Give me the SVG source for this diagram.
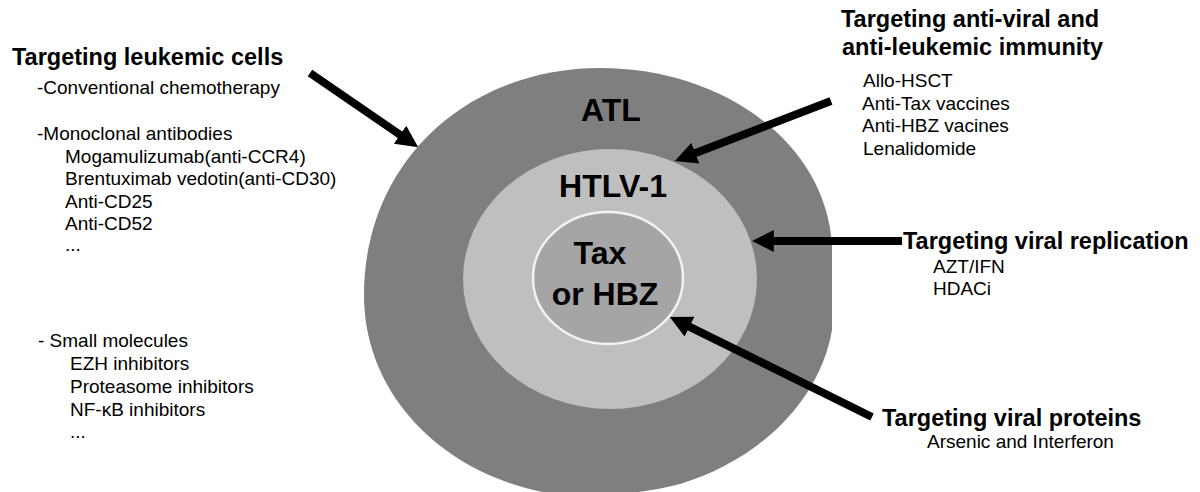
<svg xmlns="http://www.w3.org/2000/svg" width="1200" height="492" viewBox="0 0 1200 492">
<style>
.h{font-family:"Liberation Sans",Arial,sans-serif;font-weight:bold;font-size:23.5px;fill:#000}
.t{font-family:"Liberation Sans",Arial,sans-serif;font-size:19px;fill:#000}
.c{font-family:"Liberation Sans",Arial,sans-serif;font-weight:bold;font-size:32px;fill:#000;text-anchor:middle}
.arr{stroke:#000;stroke-width:8;fill:none;marker-end:url(#ah)}
</style>
<defs>
<marker id="ah" viewBox="0 0 10 10" refX="4" refY="5" markerWidth="22" markerHeight="22" markerUnits="userSpaceOnUse" orient="auto">
<path d="M0,0 L10,5 L0,10 z" fill="#000"/>
</marker>
</defs>
<rect width="1200" height="492" fill="#fff"/>
<g id="atl">
<path d="M600,68 C470,68 364,160 364,295 C364,400 450,480 560,495 C610,497 650,492 680,484 C760,460 820,400 832,330 L832,245 C825,140 720,68 600,68 Z" fill="#7f7f7f"/>
<text class="c" x="611" y="121">ATL</text>
</g>
<g id="htlv">
<ellipse cx="610" cy="279" rx="147" ry="130" fill="#bfbfbf"/>
<text class="c" x="613" y="197" font-size="31">HTLV-1</text>
</g>
<g id="tax">
<ellipse cx="608" cy="278" rx="75" ry="66" fill="#a5a5a5" stroke="#f2f2f2" stroke-width="2.5"/>
<text class="c" x="600" y="264" font-size="33">Tax</text>
<text class="c" x="605" y="305" font-size="33">or HBZ</text>
</g>
<g id="leukemic">
<text class="h" x="12" y="65">Targeting leukemic cells</text>
<text class="t" x="37" y="94">-Conventional chemotherapy</text>
<text class="t" x="37" y="140">-Monoclonal antibodies</text>
<text class="t" x="65" y="162.5">Mogamulizumab(anti-CCR4)</text>
<text class="t" x="65" y="185">Brentuximab vedotin(anti-CD30)</text>
<text class="t" x="65" y="207.5">Anti-CD25</text>
<text class="t" x="65" y="230">Anti-CD52</text>
<text class="t" x="65" y="251">...</text>
<text class="t" x="38" y="347">- Small molecules</text>
<text class="t" x="70" y="370">EZH inhibitors</text>
<text class="t" x="70" y="393">Proteasome inhibitors</text>
<text class="t" x="70" y="416">NF-κB inhibitors</text>
<text class="t" x="70" y="438">...</text>
</g>
<g id="immunity">
<text class="h" x="841" y="27">Targeting anti-viral and</text>
<text class="h" x="842" y="55">anti-leukemic immunity</text>
<text class="t" x="863" y="87">Allo-HSCT</text>
<text class="t" x="862" y="109.5">Anti-Tax vaccines</text>
<text class="t" x="862" y="132">Anti-HBZ vacines</text>
<text class="t" x="863" y="155">Lenalidomide</text>
</g>
<g id="replication">
<text class="h" x="903" y="249">Targeting viral replication</text>
<text class="t" x="933" y="273">AZT/IFN</text>
<text class="t" x="933" y="295">HDACi</text>
</g>
<g id="proteins">
<text class="h" x="882" y="426">Targeting viral proteins</text>
<text class="t" x="927" y="448">Arsenic and Interferon</text>
</g>
<g id="connectors">
<line class="arr" x1="310" y1="73" x2="407.3" y2="139.7"/>
<line class="arr" x1="831" y1="101" x2="687.1" y2="156.3"/>
<line class="arr" x1="902" y1="241" x2="765" y2="241"/>
<line class="arr" x1="872" y1="417" x2="681.6" y2="322.8"/>
</g>
</svg>
